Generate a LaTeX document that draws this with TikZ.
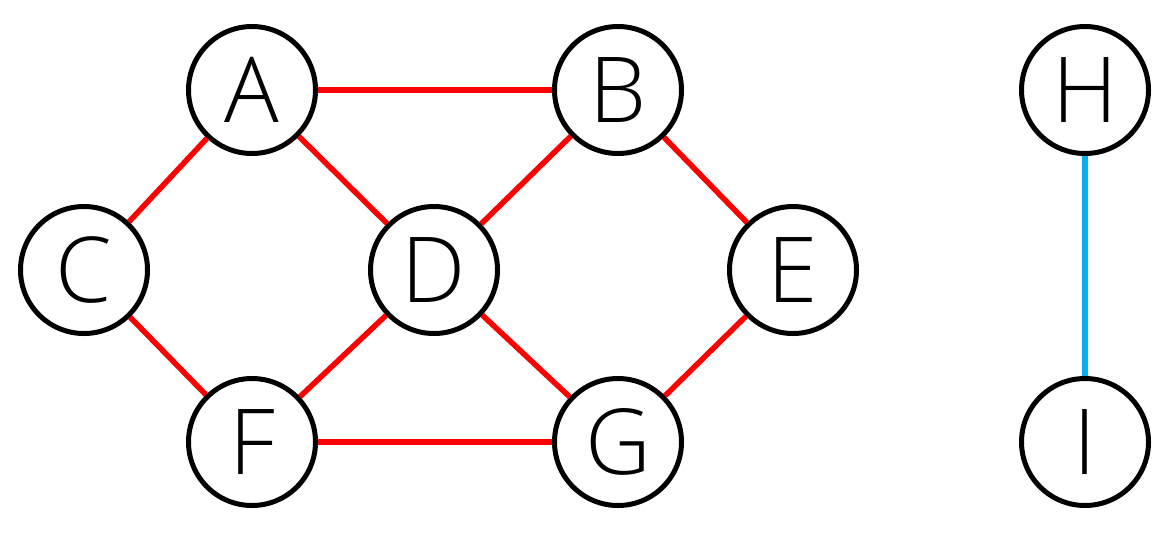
\documentclass[tikz,border=0pt]{standalone}
\usepackage{fontspec}
\IfFontExistsTF{Open Sans Light}{\setmainfont{Open Sans Light}}{\setmainfont{Open Sans}}
\definecolor{edgered}{RGB}{255,0,0}
\definecolor{edgeblue}{RGB}{0,176,240}
\begin{document}
\begin{tikzpicture}[x=1pt,y=-1pt,
  vtx/.style={circle,draw=black,line width=5pt,fill=white,minimum size=127pt,inner sep=0pt,
    font=\fontsize{91}{91}\selectfont,text height=65pt,text depth=0pt},
  redge/.style={draw=edgered,line width=5.5pt},
  bedge/.style={draw=edgeblue,line width=5.5pt}]
\useasboundingbox (0,0) rectangle (1172,550);
\node[vtx] (A) at (252,90) {A};
\node[vtx] (B) at (618,90) {B};
\node[vtx] (C) at (84,270) {C};
\node[vtx] (D) at (434,270) {D};
\node[vtx] (E) at (793,270) {E};
\node[vtx] (F) at (252,442) {F};
\node[vtx] (G) at (618,442) {G};
\node[vtx] (H) at (1085,90) {H};
\node[vtx] (I) at (1085,442) {I};
\draw[redge] (A) -- (B);
\draw[redge] (A) -- (C);
\draw[redge] (A) -- (D);
\draw[redge] (B) -- (D);
\draw[redge] (B) -- (E);
\draw[redge] (C) -- (F);
\draw[redge] (D) -- (F);
\draw[redge] (D) -- (G);
\draw[redge] (E) -- (G);
\draw[redge] (F) -- (G);
\draw[bedge] (H) -- (I);
\end{tikzpicture}
\end{document}
